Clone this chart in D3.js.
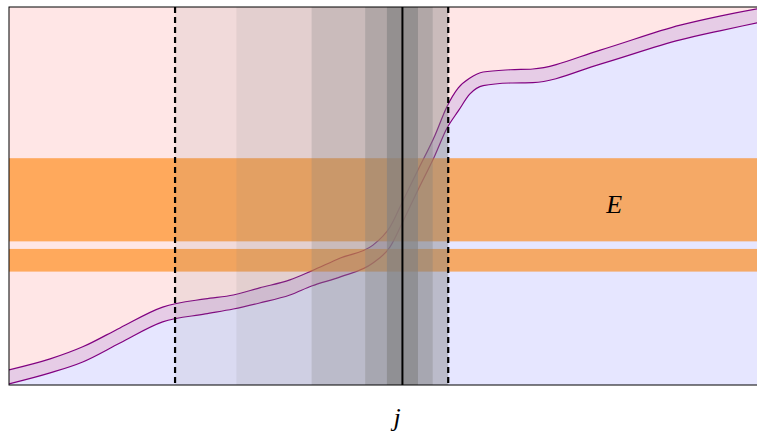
<!DOCTYPE html>
<html><head><meta charset="utf-8">
<script src="https://cdn.jsdelivr.net/npm/d3@7"></script>
<style>html,body{margin:0;padding:0;background:#fff;overflow:hidden}</style>
</head><body>
<svg id="chart" width="757" height="434"></svg>
<script>
// ---- data ----
const xs         = [0, 5.3, 9.5, 14.3, 19.8, 25.3, 28.9, 32.3, 36.2, 39.0, 42.7, 46.9, 49.1, 50.8, 52.7, 54.9, 56.4, 57.9, 59.4, 61.1, 64.6, 67.5, 76.2, 86.5, 91.6, 96.4, 100];
const upperBound = [4.0, 6.9, 10.1, 15.1, 20.6, 22.8, 23.8, 25.7, 27.8, 30.2, 33.6, 37.0, 41.8, 48.9, 56.9, 66.1, 73.5, 78.6, 81.2, 82.8, 83.4, 83.6, 88.6, 95.2, 97.6, 99.5, 100.8];
const lowerBound = [0.3, 3.2, 6.1, 11.1, 16.7, 18.8, 20.1, 21.7, 23.8, 26.2, 28.6, 32.3, 36.5, 43.4, 51.6, 60.8, 67.8, 72.5, 77.0, 79.2, 79.9, 80.0, 84.9, 91.3, 93.7, 95.8, 97.4];
const regionBands = [[21.4, 56.6], [29.3, 56.6], [39.0, 56.6], [45.9, 54.6], [48.7, 52.7]];
const energyBands = [[38.0, 60.0], [30.0, 36.0]];
const dashedMarks = [21.4, 56.6];
const centerMark = 50.7;
const xLabel = "j";
const bandLabel = "E";
const bandLabelPos = [78.0, 45.5];

// ---- layout / style ----
const M = {left: 9, top: 7, right: 785, bottom: 385};
const regionOpacity = [0.11, 0.12, 0.25, 0.34, 0.6];

const svg = d3.select("#chart");
const x = d3.scaleLinear().domain([0, 100]).range([M.left, M.right]);
const y = d3.scaleLinear().domain([0, 100]).range([M.bottom, M.top]);

svg.append("defs").append("clipPath").attr("id", "clip")
  .append("rect").attr("x", M.left).attr("y", M.top)
  .attr("width", M.right - M.left).attr("height", M.bottom - M.top);

const g = svg.append("g").attr("clip-path", "url(#clip)");
const pts = xs.map((d, i) => ({x: d, u: upperBound[i], l: lowerBound[i]}));
const curve = d3.curveMonotoneX;

g.append("path").datum(pts)
  .attr("d", d3.area().curve(curve).x(d => x(d.x)).y0(y(110)).y1(d => y(d.u)))
  .attr("fill", "rgb(255,230,230)");
g.append("path").datum(pts)
  .attr("d", d3.area().curve(curve).x(d => x(d.x)).y0(y(-10)).y1(d => y(d.l)))
  .attr("fill", "rgb(230,230,255)");
g.append("path").datum(pts)
  .attr("d", d3.area().curve(curve).x(d => x(d.x)).y0(d => y(d.l)).y1(d => y(d.u)))
  .attr("fill", "rgb(230,204,230)");
[ "u", "l" ].forEach(k => {
  g.append("path").datum(pts)
    .attr("d", d3.line().curve(curve).x(d => x(d.x)).y(d => y(d[k])))
    .attr("fill", "none").attr("stroke", "#800080").attr("stroke-width", 1.2);
});

g.selectAll("rect.energy").data(energyBands).join("rect").attr("class", "energy")
  .attr("x", M.left).attr("width", M.right - M.left)
  .attr("y", d => y(d[1])).attr("height", d => y(d[0]) - y(d[1]))
  .attr("fill", "rgb(255,128,0)").attr("fill-opacity", 0.6);

g.selectAll("rect.region").data(regionBands).join("rect").attr("class", "region")
  .attr("x", d => x(d[0])).attr("width", d => x(d[1]) - x(d[0]))
  .attr("y", M.top).attr("height", M.bottom - M.top)
  .attr("fill", "rgb(128,128,128)").attr("fill-opacity", (d, i) => regionOpacity[i]);

g.selectAll("line.dash").data(dashedMarks).join("line").attr("class", "dash")
  .attr("x1", d => x(d)).attr("x2", d => x(d)).attr("y1", M.top).attr("y2", M.bottom)
  .attr("stroke", "#000").attr("stroke-width", 2.2).attr("stroke-dasharray", "6,4");
g.append("line").attr("x1", x(centerMark)).attr("x2", x(centerMark))
  .attr("y1", M.top).attr("y2", M.bottom).attr("stroke", "#000").attr("stroke-width", 2);

svg.append("rect").attr("x", M.left).attr("y", M.top)
  .attr("width", M.right - M.left).attr("height", M.bottom - M.top)
  .attr("fill", "none").attr("stroke", "#000").attr("stroke-width", 1);

svg.append("text").attr("x", x(bandLabelPos[0])).attr("y", y(bandLabelPos[1]))
  .attr("text-anchor", "middle").attr("font-family", "Liberation Serif, serif")
  .attr("font-style", "italic").attr("font-size", 26).text(bandLabel);
svg.append("text").attr("x", x(50)).attr("y", 426)
  .attr("text-anchor", "middle").attr("font-family", "Liberation Serif, serif")
  .attr("font-style", "italic").attr("font-size", 26).text(xLabel);
</script>
</body></html>
